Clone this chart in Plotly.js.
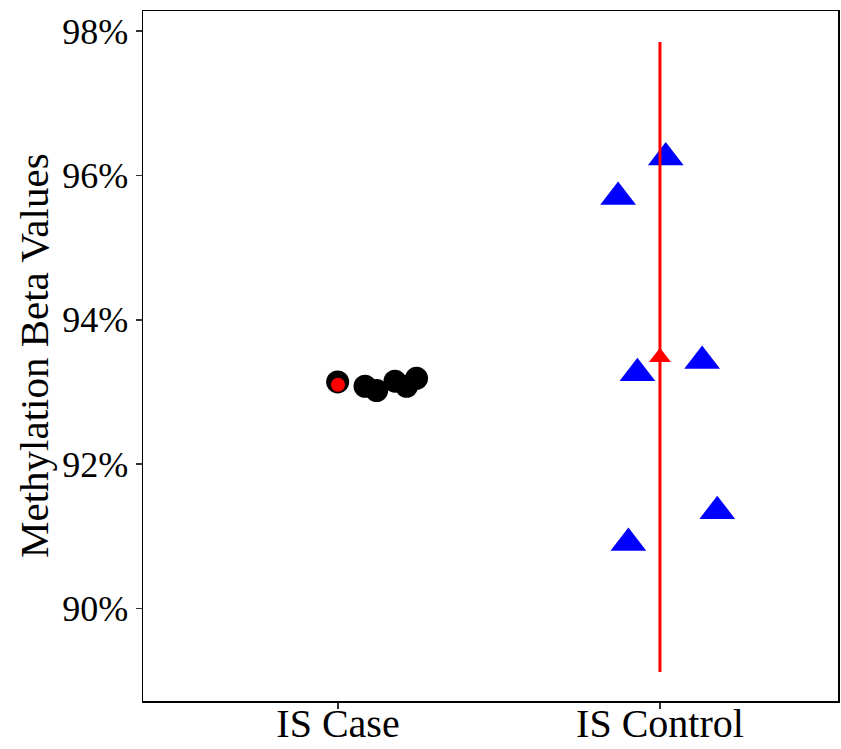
<!DOCTYPE html>
<html>
<head>
<meta charset="utf-8">
<script src="https://cdn.plot.ly/plotly-3.0.1.min.js"></script>
<style>html,body{margin:0;padding:0;background:#fff;}#chart{width:841px;height:749px;}</style>
</head>
<body>
<div id="chart"></div>
<script>
// Group labels
const groups = ["IS Case", "IS Control"];
const groupPos = [0, 1];

// IS Case points (jittered x, methylation beta %)
const caseX = [-0.001, 0.084, 0.120, 0.177, 0.213, 0.244];
const caseY = [93.14, 93.08, 93.02, 93.15, 93.08, 93.19];

// IS Control points
const ctrlX = [1.018, 0.870, 0.930, 1.131, 0.902, 1.178];
const ctrlY = [96.25, 95.70, 93.26, 93.43, 90.91, 91.35];

// Summary (mean and interval) per group
const caseMean = 93.10;
const ctrlMean = 93.48;
const ctrlLow = 89.12;
const ctrlHigh = 97.85;

// Y tick labels
const yTicks = [90, 92, 94, 96, 98];
const yTickText = ["90%", "92%", "94%", "96%", "98%"];
const yTitle = "Methylation Beta Values";

const traces = [
  {
    x: caseX, y: caseY, type: "scatter", mode: "markers",
    marker: {symbol: "circle", size: 23, color: "#000000"},
    hoverinfo: "skip", showlegend: false
  },
  {
    x: ctrlX, y: ctrlY, type: "scatter", mode: "markers",
    marker: {symbol: "triangle-up", size: 31, color: "#0000FF"},
    hoverinfo: "skip", showlegend: false
  },
  {
    x: [groupPos[1], groupPos[1]], y: [ctrlLow, ctrlHigh], type: "scatter", mode: "lines",
    line: {color: "#FF0000", width: 3},
    hoverinfo: "skip", showlegend: false
  },
  {
    x: [groupPos[0]], y: [caseMean], type: "scatter", mode: "markers",
    marker: {symbol: "circle", size: 14, color: "#FF0000"},
    hoverinfo: "skip", showlegend: false
  },
  {
    x: [groupPos[1]], y: [ctrlMean], type: "scatter", mode: "markers",
    marker: {symbol: "triangle-up", size: 19, color: "#FF0000"},
    hoverinfo: "skip", showlegend: false
  }
];

const serif = "Liberation Serif, Times New Roman, serif";

const layout = {
  width: 841, height: 749,
  margin: {l: 143, r: 3, t: 11, b: 48},
  paper_bgcolor: "#ffffff", plot_bgcolor: "#ffffff",
  font: {family: serif, color: "#000000", size: 40},
  xaxis: {
    range: [-0.6056, 1.553],
    tickvals: groupPos, ticktext: groups,
    showgrid: false, zeroline: false,
    showline: true, mirror: true, linecolor: "#000000", linewidth: 1.5,
    ticks: "outside", ticklen: 6, tickwidth: 1.5, tickcolor: "#333333",
    ticklabelstandoff: -20,
    tickfont: {size: 40, color: "#000000", family: serif}
  },
  yaxis: {
    range: [88.72, 98.278],
    tickvals: yTicks, ticktext: yTickText,
    showgrid: false, zeroline: false,
    showline: true, mirror: true, linecolor: "#000000", linewidth: 1.5,
    ticks: "outside", ticklen: 6, tickwidth: 1.5, tickcolor: "#333333",
    tickfont: {size: 36, color: "#000000", family: serif}
  },
  annotations: [{
    text: yTitle, xref: "paper", yref: "paper",
    x: -(143 - 34) / 695, y: 0.5, xanchor: "center", yanchor: "middle",
    textangle: -90, showarrow: false,
    font: {size: 41, color: "#000000", family: serif}
  }]
};

Plotly.newPlot("chart", traces, layout, {staticPlot: true, displayModeBar: false});
</script>
</body>
</html>
